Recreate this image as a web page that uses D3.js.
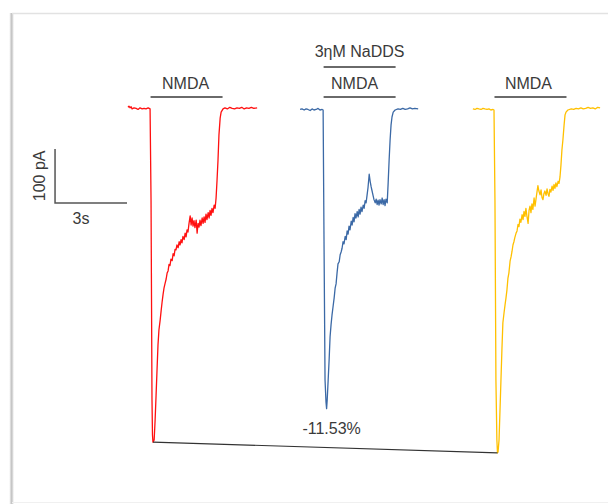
<!DOCTYPE html>
<html>
<head>
<meta charset="utf-8">
<script src="https://cdn.jsdelivr.net/npm/d3@7/dist/d3.min.js"></script>
<style>
  html, body { margin: 0; padding: 0; background: #fff; }
  svg { display: block; }
  text { font-family: "Liberation Sans", Arial, sans-serif; fill: #3a3a3a; }
</style>
</head>
<body>
<svg id="chart" width="608" height="504"></svg>
<script>
// Whole-cell NMDA currents: control, 3ηM NaDDS, washout.
// Each trace: [time from NMDA onset (s), current (pA)]
const controlTrace = [
  [-0.94, 5], [-0.90, 7], [-0.85, 4], [-0.81, 6], [-0.77, 2], [-0.69, 4], [-0.60, 3], [-0.52, 1],
  [-0.44, 4], [-0.35, 2], [-0.27, 3], [-0.19, 2], [-0.10, 4], [-0.02, 2],
  [0.02, -167], [0.04, -352], [0.06, -537], [0.08, -602], [0.10, -615],
  [0.15, -611], [0.19, -574], [0.23, -528], [0.27, -481], [0.31, -435], [0.35, -407],
  [0.40, -389], [0.44, -372], [0.48, -356], [0.52, -342], [0.56, -330], [0.60, -322],
  [0.65, -313], [0.69, -302], [0.73, -298], [0.77, -286], [0.81, -288], [0.85, -276],
  [0.90, -279], [0.94, -266], [0.98, -270], [1.02, -258], [1.06, -259], [1.10, -250],
  [1.15, -255], [1.19, -244], [1.23, -250], [1.27, -240], [1.31, -246], [1.35, -234],
  [1.40, -240], [1.44, -228], [1.48, -235], [1.52, -222], [1.56, -226], [1.60, -211],
  [1.65, -196], [1.69, -213], [1.73, -200], [1.77, -215], [1.81, -205], [1.85, -218],
  [1.90, -204], [1.94, -228], [1.98, -210], [2.02, -217], [2.06, -204], [2.10, -214],
  [2.15, -200], [2.19, -210], [2.23, -198], [2.27, -208], [2.31, -193], [2.35, -203],
  [2.40, -190], [2.44, -200], [2.48, -186], [2.52, -195], [2.56, -182], [2.60, -190],
  [2.65, -176], [2.69, -182], [2.73, -163], [2.77, -130], [2.81, -93], [2.85, -46],
  [2.90, -15], [2.94, -4], [3.02, 2], [3.10, 4], [3.20, 2], [3.30, 5], [3.40, 3],
  [3.50, 2], [3.60, 4], [3.70, 3], [3.80, 5], [3.90, 2], [4.00, 4], [4.10, 3],
  [4.20, 5], [4.30, 3], [4.44, 4]
];

const naddsTrace = [
  [-0.98, 1], [-0.90, 2], [-0.81, 0], [-0.73, 2], [-0.65, 1], [-0.56, -1], [-0.48, 2],
  [-0.40, 0], [-0.31, 1], [-0.23, 3], [-0.15, 0], [-0.06, 1], [-0.02, 0],
  [0.02, -259], [0.06, -500], [0.10, -541], [0.125, -553], [0.15, -537],
  [0.19, -500], [0.23, -463], [0.27, -420], [0.31, -398], [0.35, -380], [0.40, -362],
  [0.44, -348], [0.48, -330], [0.52, -322], [0.56, -302], [0.60, -285], [0.65, -281],
  [0.69, -268], [0.73, -263], [0.77, -256], [0.81, -244], [0.85, -248], [0.90, -234],
  [0.94, -240], [0.98, -224], [1.02, -230], [1.06, -215], [1.10, -222], [1.15, -206],
  [1.19, -213], [1.23, -199], [1.27, -207], [1.31, -192], [1.35, -200], [1.40, -188],
  [1.44, -198], [1.48, -184], [1.52, -193], [1.56, -180], [1.60, -188], [1.65, -176],
  [1.69, -182], [1.73, -168], [1.77, -172], [1.81, -158], [1.85, -144], [1.90, -119],
  [1.94, -132], [1.98, -142], [2.02, -150], [2.06, -158], [2.10, -166], [2.15, -172],
  [2.19, -165], [2.23, -175], [2.27, -167], [2.31, -176], [2.35, -166], [2.40, -174],
  [2.44, -163], [2.48, -175], [2.52, -166], [2.56, -177], [2.60, -165], [2.65, -172],
  [2.69, -135], [2.73, -93], [2.77, -56], [2.81, -28], [2.85, -13], [2.90, -4],
  [2.98, 0], [3.10, 2], [3.20, 1], [3.30, 3], [3.40, 1], [3.50, 2], [3.60, 4],
  [3.70, 2], [3.80, 3], [3.94, 2]
];

const washoutTrace = [
  [-0.90, 2], [-0.81, 1], [-0.73, 3], [-0.65, 2], [-0.56, 1], [-0.48, 3], [-0.40, 2],
  [-0.31, 1], [-0.23, 2], [-0.15, 0], [-0.06, 1], [-0.02, 0],
  [0.02, -167], [0.06, -500], [0.10, -611], [0.125, -635], [0.15, -633],
  [0.19, -611], [0.23, -556], [0.27, -500], [0.31, -444], [0.35, -394], [0.40, -375],
  [0.44, -361], [0.48, -348], [0.52, -333], [0.56, -312], [0.60, -302], [0.65, -280],
  [0.69, -272], [0.73, -262], [0.77, -250], [0.81, -244], [0.85, -236], [0.90, -228],
  [0.94, -224], [0.98, -212], [1.02, -216], [1.06, -202], [1.10, -208], [1.15, -194],
  [1.19, -203], [1.23, -188], [1.27, -197], [1.31, -182], [1.35, -196], [1.40, -210],
  [1.44, -186], [1.48, -178], [1.52, -190], [1.56, -174], [1.60, -184], [1.65, -163],
  [1.69, -178], [1.73, -165], [1.77, -152], [1.81, -140], [1.85, -150], [1.90, -157],
  [1.94, -148], [1.98, -162], [2.02, -166], [2.06, -155], [2.10, -150], [2.15, -158],
  [2.19, -146], [2.23, -155], [2.27, -160], [2.31, -147], [2.35, -152], [2.40, -141],
  [2.44, -149], [2.48, -138], [2.52, -145], [2.56, -135], [2.60, -142], [2.65, -132],
  [2.69, -136], [2.73, -124], [2.77, -102], [2.81, -74], [2.85, -56], [2.90, -28],
  [2.94, -9], [2.98, -4], [3.06, 0], [3.20, 2], [3.30, 1], [3.40, 3], [3.50, 2],
  [3.60, 4], [3.70, 2], [3.80, 3], [3.90, 5], [4.00, 3], [4.10, 4], [4.20, 2],
  [4.30, 5], [4.40, 4]
];

// Recording layout on a shared time axis (s)
const traces = [controlTrace, naddsTrace, washoutTrace];
const traceOnsets = [0.94, 8.15, 15.27];
const traceColors = ["#ff1010", "#3b69a6", "#ffc000"];
const applicationLabels = ["NMDA", "NMDA", "NMDA"];
const drugLabel = "3ηM NaDDS";
const nmdaDuration = 3;            // s
const peakChangeLabel = "-11.53%";

// Scale bar
const scaleBarTime = 3;            // s
const scaleBarCurrent = 100;       // pA
const scaleBarOrigin = [-3.04, -172];

const svg = d3.select("#chart");

const x = d3.scaleLinear().domain([0, 20]).range([128, 608]);
const y = d3.scaleLinear().domain([0, -700]).range([110, 488]);

// Panel frame with a soft left shadow
const defs = svg.append("defs");
const grad = defs.append("linearGradient").attr("id", "edge").attr("x1", 0).attr("x2", 1);
grad.append("stop").attr("offset", 0).attr("stop-color", "#f2f2f2");
grad.append("stop").attr("offset", 0.5).attr("stop-color", "#c6c6c6");
grad.append("stop").attr("offset", 1).attr("stop-color", "#e6e6e6");
svg.append("rect").attr("x", 9.5).attr("y", 13).attr("width", 4).attr("height", 491).attr("fill", "url(#edge)");
svg.append("line").attr("x1", 12).attr("x2", 608).attr("y1", 13.5).attr("y2", 13.5)
  .attr("stroke", "#e2e2e2").attr("stroke-width", 1.5);
svg.append("line").attr("x1", 12).attr("x2", 608).attr("y1", 502.5).attr("y2", 502.5)
  .attr("stroke", "#f0f0f0").attr("stroke-width", 1);

const line = d3.line().x(d => d[0]).y(d => d[1]);

// Current traces
traces.forEach((tr, i) => {
  const pts = tr.map(d => [x(traceOnsets[i] + d[0]), y(d[1])]);
  svg.append("path")
    .attr("d", line(pts))
    .attr("fill", "none")
    .attr("stroke", traceColors[i])
    .attr("stroke-width", 1.3)
    .attr("stroke-linejoin", "round");
});

// NMDA application bars and labels
const labelShift = [-1, -5, -2];
traceOnsets.forEach((t0, i) => {
  const x0 = x(t0), x1 = x(t0 + nmdaDuration);
  svg.append("line").attr("x1", x0).attr("x2", x1).attr("y1", 97).attr("y2", 97)
    .attr("stroke", "#6a6a6a").attr("stroke-width", 2);
  svg.append("text").attr("x", (x0 + x1) / 2 + labelShift[i]).attr("y", 89)
    .attr("text-anchor", "middle").attr("font-size", 16).text(applicationLabels[i]);
});

// NaDDS co-application bar
{
  const t0 = traceOnsets[1];
  const x0 = x(t0), x1 = x(t0 + nmdaDuration);
  svg.append("line").attr("x1", x0).attr("x2", x1).attr("y1", 67).attr("y2", 67)
    .attr("stroke", "#6a6a6a").attr("stroke-width", 2);
  svg.append("text").attr("x", (x0 + x1) / 2).attr("y", 57)
    .attr("text-anchor", "middle").attr("font-size", 16).text(drugLabel);
}

// Line joining control and washout peaks
const peakOf = (tr, i) => {
  const p = tr.reduce((a, b) => (b[1] < a[1] ? b : a));
  return [traceOnsets[i] + p[0], p[1]];
};
const pCtrl = peakOf(controlTrace, 0);
const pNadds = peakOf(naddsTrace, 1);
const pWash = peakOf(washoutTrace, 2);
svg.append("line")
  .attr("x1", x(pCtrl[0])).attr("y1", y(pCtrl[1]))
  .attr("x2", x(pWash[0])).attr("y2", y(pWash[1]))
  .attr("stroke", "#333").attr("stroke-width", 1.2);

svg.append("text").attr("x", x(pNadds[0]) + 5).attr("y", 434)
  .attr("text-anchor", "middle").attr("font-size", 16).text(peakChangeLabel);

// Scale bar
const sx0 = x(scaleBarOrigin[0]), sy0 = y(scaleBarOrigin[1]);
const sx1 = x(scaleBarOrigin[0] + scaleBarTime);
const sy1 = y(scaleBarOrigin[1] + scaleBarCurrent);
svg.append("path")
  .attr("d", `M${sx0},${sy1}V${sy0}H${sx1}`)
  .attr("fill", "none").attr("stroke", "#555").attr("stroke-width", 1.5);
svg.append("text").attr("x", (sx0 + sx1) / 2 - 10).attr("y", sy0 + 21.5)
  .attr("text-anchor", "middle").attr("font-size", 16).text(scaleBarTime + "s");
svg.append("text")
  .attr("transform", `translate(${sx0 - 10},${(sy0 + sy1) / 2}) rotate(-90)`)
  .attr("text-anchor", "middle").attr("font-size", 16).text(scaleBarCurrent + " pA");
</script>
</body>
</html>
